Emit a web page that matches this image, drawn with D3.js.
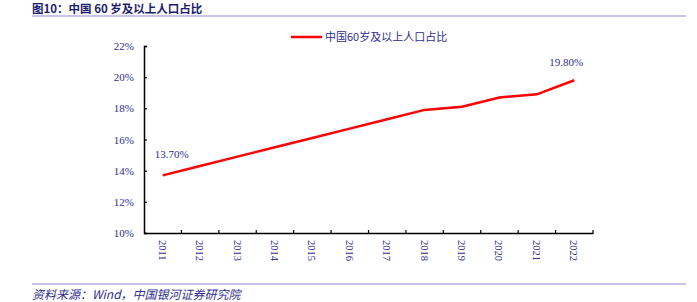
<!DOCTYPE html>
<html><head><meta charset="utf-8">
<script src="https://cdn.jsdelivr.net/npm/d3@7"></script>
<style>body{margin:0;background:#fff}svg{display:block}</style>
</head><body>
<script>
const years = ["2011","2012","2013","2014","2015","2016","2017","2018","2019","2020","2021","2022"];
const values = [13.7,14.3,14.9,15.5,16.1,16.7,17.3,17.9,18.1,18.7,18.9,19.8];
const yTicks = [10,12,14,16,18,20,22];
const seriesName = "中国60岁及以上人口占比";
const title = "图10：中国 60 岁及以上人口占比";
const source = "资料来源：Wind，中国银河证券研究院";

const W = 697, H = 302;
const navy = "#2e2e8f";
const svg = d3.select("body").append("svg").attr("width", W).attr("height", H);

// title
svg.append("text").attr("x", 32).attr("y", 13)
  .attr("font-family", "'Noto Sans CJK SC', 'Liberation Serif'")
  .attr("font-weight", "bold").attr("font-size", 11.5).attr("fill", "#1c1c6e")
  .text(title);
svg.append("line").attr("x1", 32).attr("x2", 686).attr("y1", 16).attr("y2", 16)
  .attr("stroke", "#b4b0dc").attr("stroke-width", 1.5);

const x = d3.scaleBand().domain(years).range([144, 593]);
const y = d3.scaleLinear().domain([10, 22]).range([233, 46]);

// y axis
const yAxis = svg.append("g").attr("transform", "translate(144,0)")
  .call(d3.axisRight(y).tickValues(yTicks).tickSize(3).tickFormat(d => d + "%"));
yAxis.select(".domain").attr("stroke", "#000").attr("stroke-width", 1.5);
yAxis.selectAll(".tick line").attr("stroke", "#000").attr("stroke-width", 1.2);
yAxis.selectAll(".tick text").attr("x", -10).attr("text-anchor", "end")
  .attr("font-family", "'Liberation Serif', serif").attr("font-size", 11).attr("fill", navy);

// x axis
const xAxis = svg.append("g").attr("transform", "translate(0,233)")
  .call(d3.axisTop(x).tickSize(0).tickFormat(""));
xAxis.select(".domain").attr("stroke", "#000").attr("stroke-width", 1.5);
xAxis.selectAll(".tick").remove();
const bounds = years.map((d, i) => x(d) + x.step());
svg.append("g").selectAll("line").data(bounds).join("line")
  .attr("x1", d => d).attr("x2", d => d).attr("y1", 233).attr("y2", 230)
  .attr("stroke", "#000").attr("stroke-width", 1.2);
svg.append("g").selectAll("text").data(years).join("text")
  .attr("transform", d => `translate(${x(d) + x.bandwidth() / 2 - 4},240) rotate(90)`)
  .attr("font-family", "'Liberation Serif', serif").attr("font-size", 10.5).attr("fill", navy)
  .attr("text-anchor", "start")
  .text(d => d);

// line
const line = d3.line().x((d, i) => x(years[i]) + x.bandwidth() / 2).y(d => y(d));
svg.append("path").datum(values).attr("d", line)
  .attr("fill", "none").attr("stroke", "#ff0000").attr("stroke-width", 2.5);

// data labels
const lab = [0, values.length - 1];
svg.append("g").selectAll("text").data(lab).join("text")
  .attr("x", i => x(years[i]) + x.bandwidth() / 2 + (i === 0 ? 9 : -8))
  .attr("y", i => y(values[i]) - (i === 0 ? 17 : 14))
  .attr("text-anchor", "middle")
  .attr("font-family", "'Liberation Serif', serif").attr("font-size", 11).attr("fill", navy)
  .text(i => values[i].toFixed(2) + "%");

// legend
svg.append("line").attr("x1", 291).attr("x2", 322).attr("y1", 37).attr("y2", 37)
  .attr("stroke", "#ff0000").attr("stroke-width", 2.5);
svg.append("text").attr("x", 325).attr("y", 41)
  .attr("font-family", "'Noto Sans CJK SC', 'Liberation Serif'").attr("font-size", 11).attr("fill", navy)
  .text(seriesName);

// footer
svg.append("line").attr("x1", 32).attr("x2", 686).attr("y1", 284).attr("y2", 284)
  .attr("stroke", "#b4b0dc").attr("stroke-width", 1.5);
svg.append("text").attr("x", 32).attr("y", 299)
  .attr("font-family", "'Noto Sans CJK SC', 'Liberation Serif'").attr("font-style", "italic")
  .attr("font-size", 12).attr("fill", navy)
  .text(source);
</script>
</body></html>
